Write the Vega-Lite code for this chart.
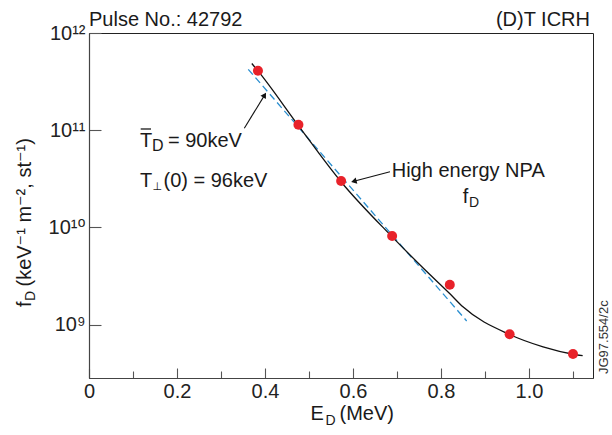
{
  "$schema": "https://vega.github.io/schema/vega-lite/v6.json",
  "width": 504,
  "height": 345,
  "autosize": {"type": "none"},
  "padding": {"left": 89, "top": 33, "right": 19, "bottom": 57},
  "background": "white",
  "config": {
    "view": {"stroke": "#222", "strokeWidth": 1},
    "font": "Liberation Sans, DejaVu Sans",
    "text": {"font": "Liberation Sans, DejaVu Sans", "color": "#1a1a1a", "baseline": "alphabetic"}
  },
  "datasets": {
    "fit": [
      {"E": 0.362, "f": 4.232e11},
      {"E": 0.8584, "f": 1.089e9}
    ],
    "curve": [
      {"E": 0.370, "f": 4.853e11},
      {"E": 0.384, "f": 4.074e11},
      {"E": 0.4755, "f": 1.122e11},
      {"E": 0.5727, "f": 2.951e10},
      {"E": 0.6886, "f": 8.035e9},
      {"E": 0.76, "f": 3.80e9},
      {"E": 0.8197, "f": 2.089e9},
      {"E": 0.8506, "f": 1.514e9},
      {"E": 0.956, "f": 7.907e8},
      {"E": 1.032, "f": 5.902e8},
      {"E": 1.1006, "f": 4.955e8},
      {"E": 1.122, "f": 4.786e8}
    ],
    "npa": [
      {"E": 0.384, "f": 4.09e11},
      {"E": 0.476, "f": 1.139e11},
      {"E": 0.573, "f": 3.0e10},
      {"E": 0.689, "f": 8.155e9},
      {"E": 0.82, "f": 2.573e9},
      {"E": 0.956, "f": 7.947e8},
      {"E": 1.1, "f": 4.983e8}
    ],
    "arrows": [
      {"E": 0.353, "f": 1.046e11, "E2": 0.3991, "f2": 2.297e11},
      {"E": 0.6841, "f": 3.741e10, "E2": 0.602, "f2": 2.981e10}
    ],
    "head1": [{"E": 0.3991, "f": 2.297e11}],
    "head2": [{"E": 0.602, "f": 2.981e10}],
    "overbar": [{"E": 0.1175, "E2": 0.1409, "f": 1.029e11}],
    "labels": [
      {"E": 0.0, "f": 1.18e12, "text": "Pulse No.: 42792"},
      {"E": 0.1159, "f": 6.76e10, "text": "T"},
      {"E": 0.1795, "f": 6.76e10, "text": "= 90keV"},
      {"E": 0.1159, "f": 2.604e10, "text": "T"},
      {"E": 0.1693, "f": 2.604e10, "text": "(0) = 96keV"},
      {"E": 0.688, "f": 3.277e10, "text": "High energy NPA"},
      {"E": 0.8495, "f": 1.77e10, "text": "f"},
      {"E": 0.5034, "f": 1.0435e8, "text": "E"},
      {"E": 0.5693, "f": 1.0435e8, "text": "(MeV)"}
    ],
    "labelsRight": [
      {"E": 1.1386, "f": 1.18e12, "text": "(D)T ICRH"}
    ],
    "subsLarge": [
      {"E": 0.1432, "f": 6.18e10, "text": "D"}
    ],
    "perp": [
      {"E": 0.1445, "f": 2.45e10, "text": "⊥"}
    ],
    "subsSmall": [
      {"E": 0.8636, "f": 1.633e10, "text": "D"},
      {"E": 0.5375, "f": 9.27e7, "text": "D"}
    ],
    "ytitle": [
      {"E": -0.1318, "f": 1.517e9, "text": "f"},
      {"E": -0.1318, "f": 2.466e9, "text": "(keV⁻¹ m⁻², st⁻¹)"}
    ],
    "ytitleSub": [
      {"E": -0.1227, "f": 1.75e9, "text": "D"}
    ],
    "ref": [
      {"E": 1.1795, "f": 3.1e8, "text": "JG97.554/2c"}
    ]
  },
  "encoding": {
    "x": {
      "field": "E", "type": "quantitative",
      "scale": {"domain": [0, 1.1455], "nice": false, "zero": false},
      "axis": {
        "values": [0, 0.1, 0.2, 0.3, 0.4, 0.5, 0.6, 0.7, 0.8, 0.9, 1.0, 1.1],
        "labelExpr": "round(datum.value * 10) % 2 == 1 ? '' : (datum.value == 0 ? '0' : format(datum.value, '.1f'))",
        "title": null, "grid": false,
        "tickSize": {"condition": {"test": "round(datum.value * 10) % 2 == 1", "value": -7}, "value": -10},
        "tickColor": "#555", "tickWidth": 1.1,
        "domainColor": "#444", "domainWidth": 1.2,
        "labelFont": "Liberation Sans", "labelFontSize": 20, "labelColor": "#222",
        "labelPadding": 13, "labelFlush": false, "labelOverlap": false
      }
    },
    "y": {
      "field": "f", "type": "quantitative",
      "scale": {"type": "log", "domain": [2.823e8, 1e12], "nice": false},
      "axis": {
        "values": [1e9, 1e10, 1e11, 1e12],
        "labelExpr": "datum.value >= 1e12 ? '10¹²' : datum.value >= 1e11 ? '10¹¹' : datum.value >= 1e10 ? '10¹⁰' : '10⁹'",
        "title": null, "grid": false,
        "tickSize": -12, "tickColor": "#555", "tickWidth": 1.1,
        "domainColor": "#444", "domainWidth": 1.2,
        "labelFont": "Liberation Sans, DejaVu Sans", "labelFontSize": 20, "labelColor": "#222",
        "labelPadding": 16, "labelBaseline": "middle", "labelFlush": false, "labelOverlap": false
      }
    }
  },
  "layer": [
    {
      "data": {"name": "fit"},
      "mark": {"type": "line", "color": "#2b8fd0", "strokeDash": [7, 4], "strokeWidth": 1.3}
    },
    {
      "data": {"name": "curve"},
      "mark": {"type": "line", "color": "#111", "strokeWidth": 1.3, "interpolate": "monotone"}
    },
    {
      "data": {"name": "npa"},
      "mark": {"type": "point", "shape": "circle", "filled": true, "color": "#e8222a", "opacity": 1, "size": 100}
    },
    {
      "data": {"name": "arrows"},
      "mark": {"type": "rule", "color": "#111", "strokeWidth": 1.1},
      "encoding": {
        "x2": {"field": "E2"},
        "y2": {"field": "f2"}
      }
    },
    {
      "data": {"name": "head1"},
      "mark": {"type": "point", "shape": "triangle-up", "filled": true, "color": "#111", "opacity": 1, "size": 40, "angle": 31.5}
    },
    {
      "data": {"name": "head2"},
      "mark": {"type": "point", "shape": "triangle-up", "filled": true, "color": "#111", "opacity": 1, "size": 40, "angle": 255}
    },
    {
      "data": {"name": "overbar"},
      "mark": {"type": "rule", "color": "#1a1a1a", "strokeWidth": 1.3},
      "encoding": {"x2": {"field": "E2"}}
    },
    {
      "data": {"name": "labels"},
      "mark": {"type": "text", "align": "left", "fontSize": 20},
      "encoding": {"text": {"field": "text"}}
    },
    {
      "data": {"name": "labelsRight"},
      "mark": {"type": "text", "align": "right", "fontSize": 20},
      "encoding": {"text": {"field": "text"}}
    },
    {
      "data": {"name": "subsLarge"},
      "mark": {"type": "text", "align": "left", "fontSize": 16},
      "encoding": {"text": {"field": "text"}}
    },
    {
      "data": {"name": "perp"},
      "mark": {"type": "text", "align": "left", "fontSize": 11, "font": "DejaVu Sans"},
      "encoding": {"text": {"field": "text"}}
    },
    {
      "data": {"name": "subsSmall"},
      "mark": {"type": "text", "align": "left", "fontSize": 14},
      "encoding": {"text": {"field": "text"}}
    },
    {
      "data": {"name": "ytitle"},
      "mark": {"type": "text", "align": "left", "fontSize": 20, "angle": 270},
      "encoding": {"text": {"field": "text"}}
    },
    {
      "data": {"name": "ytitleSub"},
      "mark": {"type": "text", "align": "left", "fontSize": 14, "angle": 270},
      "encoding": {"text": {"field": "text"}}
    },
    {
      "data": {"name": "ref"},
      "mark": {"type": "text", "align": "left", "fontSize": 13, "angle": 270, "color": "#333"},
      "encoding": {"text": {"field": "text"}}
    }
  ]
}
